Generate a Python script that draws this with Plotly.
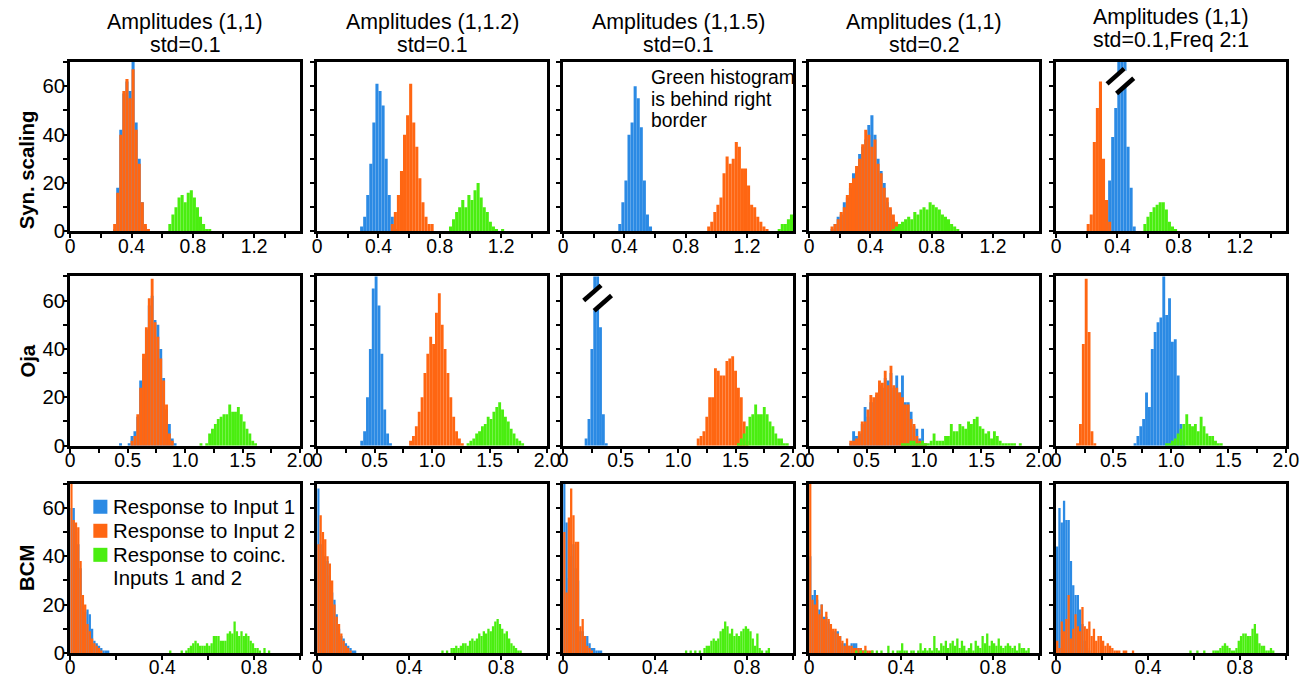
import plotly.graph_objects as go

# reference canvas (all positions below are in these pixel units)
W, H = 1303, 676
# the page is photographed slightly zoomed out, so the figure is drawn a bit larger
K = 1.0177
FIG_W, FIG_H = round(W * K), round(H * K)

BLUE, ORANGE, GREEN = "#2B8AE4", "#FF6612", "#4AEE10"
FONT = "Liberation Sans, Arial, sans-serif"

col_title_line1 = ["Amplitudes (1,1)", "Amplitudes (1,1.2)", "Amplitudes (1,1.5)",
                   "Amplitudes (1,1)", "Amplitudes (1,1)"]
col_title_line2 = ["std=0.1", "std=0.1", "std=0.1", "std=0.2", "std=0.1,Freq 2:1"]
row_labels = ["Syn. scaling", "Oja", "BCM"]
series_names = ["Response to Input 1", "Response to Input 2", "Response to coinc."]
series_name_extra = ["", "", "Inputs 1 and 2"]
row_bin_width = [0.02, 0.025, 0.01]
row_xmax = [1.5, 2.0, 1.0]
row_xticks = [[0, 0.4, 0.8, 1.2], [0, 0.5, 1.0, 1.5, 2.0], [0, 0.4, 0.8]]
row_xticktext = [["0", "0.4", "0.8", "1.2"], ["0", "0.5", "1.0", "1.5", "2.0"], ["0", "0.4", "0.8"]]
row_minor = [0.2, 0.25, 0.2]
y_ticks = [0, 20, 40, 60]
y_max = 70

# ---------------- Row 1: Syn. scaling (bin width 0.02) ----------------
r1c1_in1_start = 0.29
r1c1_in1 = [1, 18, 42, 57, 62, 58, 70, 45, 30, 12, 2]
r1c1_in2_start = 0.29
r1c1_in2 = [3, 16, 40, 58, 63, 55, 67, 42, 28, 12, 3, 1]
r1c1_in3_start = 0.65
r1c1_in3 = [3, 7, 10, 14, 15, 12, 16, 17, 14, 10, 6, 3, 1, 1]

r1c2_in1_start = 0.29
r1c2_in1 = [2, 6, 15, 28, 45, 61, 58, 52, 30, 15, 6, 1]
r1c2_in2_start = 0.49
r1c2_in2 = [3, 8, 15, 25, 40, 48, 61, 45, 35, 22, 12, 6, 3, 3]
r1c2_in3_start = 0.87
r1c2_in3 = [2, 5, 8, 10, 13, 10, 15, 13, 17, 20, 14, 10, 8, 4, 2, 1, 0, 1]

r1c3_in1_start = 0.37
r1c3_in1 = [3, 12, 21, 40, 45, 60, 55, 43, 21, 7, 2]
r1c3_in2_start = 0.95
r1c3_in2 = [2, 4, 8, 11, 14, 24, 31, 28, 30, 37, 35, 26, 26, 19, 11, 10, 6, 4, 2, 1]
r1c3_in3_start = 1.41
r1c3_in3 = [1, 3, 3, 5, 7]

r1c4_in1_start = 0.15
r1c4_in1 = [1, 3, 6, 7, 12, 14, 18, 24, 25, 32, 35, 38, 44, 48, 40, 30, 25, 20, 12, 9, 5, 3, 2, 1]
r1c4_in2_start = 0.15
r1c4_in2 = [2, 3, 5, 8, 10, 15, 20, 22, 27, 30, 36, 42, 40, 35, 38, 28, 24, 18, 14, 10, 7, 4, 2, 1]
r1c4_in3_start = 0.55
r1c4_in3 = [1, 2, 3, 4, 5, 6, 5, 8, 7, 9, 10, 9, 12, 11, 10, 9, 7, 6, 5, 3, 2, 1]

r1c5_in1_start = 0.33
r1c5_in1 = [13, 21, 39, 51, 75, 80, 75, 35, 18, 2]
r1c5_in2_start = 0.21
r1c5_in2 = [3, 7, 37, 51, 62, 30, 13, 4]
r1c5_in3_start = 0.58
r1c5_in3 = [3, 6, 8, 10, 11, 12, 12, 9, 4, 2, 1]

# ---------------- Row 2: Oja (bin width 0.025) ----------------
r2c1_in1_start = 0.4375
r2c1_in1 = [1, 0, 0, 1, 4, 6, 12, 27, 36, 48, 58, 62, 52, 50, 40, 28, 15, 9, 3, 1]
r2c1_in2_start = 0.5375
r2c1_in2 = [2, 4, 13, 24, 38, 49, 61, 69, 51, 45, 36, 27, 17, 5, 2]
r2c1_in3_start = 1.1375
r2c1_in3 = [1, 0, 1, 5, 7, 9, 11, 12, 13, 13, 17, 14, 14, 16, 13, 10, 7, 5, 2, 1]

r2c2_in1_start = 0.3875
r2c2_in1 = [2, 6, 20, 40, 65, 72, 58, 38, 15, 5, 1]
r2c2_in2_start = 0.8125
r2c2_in2 = [2, 4, 8, 14, 20, 30, 38, 45, 42, 55, 63, 50, 40, 30, 20, 12, 6, 3, 1]
r2c2_in3_start = 1.3125
r2c2_in3 = [1, 2, 3, 5, 6, 8, 9, 12, 11, 14, 16, 18, 15, 12, 10, 7, 5, 3, 2, 1]

r2c3_in1_start = 0.2
r2c3_in1 = [3, 11, 40, 80, 80, 49, 13, 1]
r2c3_in2_start = 1.175
r2c3_in2 = [3, 4, 6, 12, 20, 20, 32, 31, 29, 29, 35, 36, 37, 31, 24, 20, 10, 2]
r2c3_in3_start = 1.525
r2c3_in3 = [1, 3, 5, 8, 12, 13, 17, 13, 13, 16, 13, 10, 8, 5, 3, 3, 1, 1]

r2c4_in1_start = 0.3625
r2c4_in1 = [1, 6, 4, 5, 9, 16, 12, 18, 18, 21, 25, 24, 28, 27, 30, 24, 29, 22, 29, 18, 18, 14, 8, 7, 3, 7, 1]
r2c4_in2_start = 0.3625
r2c4_in2 = [2, 2, 3, 6, 10, 10, 15, 21, 20, 22, 27, 26, 31, 25, 33, 25, 24, 22, 20, 17, 17, 11, 9, 4, 2, 1, 1]
r2c4_in3_start = 0.8125
r2c4_in3 = [1, 1, 1, 2, 2, 1, 1, 2, 1, 1, 2, 5, 2, 2, 2, 4, 4, 9, 6, 6, 9, 8, 7, 10, 9, 11,
            12, 8, 7, 5, 6, 3, 6, 4, 2, 1, 1, 1, 1, 1, 0, 1]

r2c5_in1_start = 0.6875
r2c5_in1 = [1, 4, 8, 11, 22, 16, 40, 47, 51, 53, 72, 54, 61, 43, 44, 29, 9, 2]
r2c5_in2_start = 0.1875
r2c5_in2 = [1, 9, 42, 69, 47, 6, 1]
r2c5_in3_start = 0.9625
r2c5_in3 = [1, 1, 2, 3, 5, 7, 9, 13, 9, 8, 9, 6, 12, 8, 5, 4, 4, 2, 1, 1]

# ---------------- Row 3: BCM (bin width 0.01) ----------------
r3c1_in1_start = 0.005
r3c1_in1 = [60, 60, 50, 45, 35, 22, 17, 18, 16, 10, 5, 4, 3, 2, 1, 1, 1]
r3c1_in2_start = 0.005
r3c1_in2 = [75, 55, 54, 52, 38, 24, 20, 12, 9, 6, 4, 3, 2, 1]
r3c1_in3_start = 0.435
r3c1_in3 = [1, 0, 0, 0, 0, 1, 0, 1, 2, 3, 4, 5, 4, 3, 3, 3, 4, 3, 4, 7, 7, 7, 5, 5, 5, 8,
            9, 8, 13, 9, 7, 9, 7, 8, 7, 5, 4, 2, 2, 1, 0, 2, 0, 1]

r3c2_in1_start = 0.005
r3c2_in1 = [68, 45, 42, 40, 38, 32, 25, 22, 16, 10, 7, 6, 4, 3, 2, 1, 1]
r3c2_in2_start = 0.005
r3c2_in2 = [45, 57, 50, 47, 40, 37, 30, 20, 15, 12, 8, 5, 3, 2, 1]
r3c2_in3_start = 0.545
r3c2_in3 = [1, 0, 1, 0, 2, 2, 3, 2, 3, 4, 4, 3, 5, 6, 5, 6, 8, 7, 9, 8, 10, 9, 11, 13,
            14, 12, 10, 8, 9, 6, 4, 3, 2, 1, 1]

r3c3_in1_start = 0.005
r3c3_in1 = [70, 54, 31, 40, 45, 35, 30, 9, 9, 7, 7, 4, 2, 2, 1, 1, 1]
r3c3_in2_start = 0.005
r3c3_in2 = [50, 25, 56, 68, 57, 46, 46, 11, 14, 7, 3, 2, 1]
r3c3_in3_start = 0.535
r3c3_in3 = [1, 0, 1, 0, 1, 0, 1, 0, 2, 3, 3, 5, 6, 5, 6, 9, 10, 13, 11, 8, 10, 7, 8, 7,
            9, 10, 11, 10, 9, 6, 3, 8, 2, 1, 0, 1, 2]

r3c4_in1_start = 0.005
r3c4_in1 = [40, 24, 26, 22, 18, 20, 15, 15, 13, 10, 9, 9, 9, 7, 4, 4, 3, 3, 4, 4, 4, 2, 2, 1]
r3c4_in2_start = 0.005
r3c4_in2 = [72, 22, 20, 24, 16, 20, 14, 17, 14, 12, 10, 10, 8, 7, 5, 3, 6, 3, 3, 2, 2, 2, 2, 1, 3, 1, 1, 1]
r3c4_in3_start = 0.205
r3c4_in3 = [1, 0, 1, 0, 1, 0, 0, 1, 0, 1, 0, 1, 0, 0, 3, 0, 1, 0, 1, 1, 4, 1, 1, 0, 1, 1,
            0, 1, 4, 1, 2, 1, 2, 1, 7, 2, 1, 4, 3, 5, 2, 4, 5, 3, 6, 2, 5, 3, 1, 2, 4, 1,
            5, 3, 2, 7, 4, 8, 3, 5, 4, 3, 6, 3, 2, 3, 4, 3, 2, 3, 1, 4, 2, 2, 1, 2]

r3c5_in1_start = 0.005
r3c5_in1 = [44, 60, 54, 63, 55, 55, 38, 28, 24, 24, 18, 12, 5, 2, 1]
r3c5_in2_start = 0.005
r3c5_in2 = [5, 2, 13, 9, 14, 24, 6, 10, 16, 11, 9, 19, 11, 10, 13, 7, 10, 5, 7, 7, 5, 3,
            4, 3, 2, 1, 1, 1, 0, 1, 1, 0, 0, 1]
r3c5_in3_start = 0.585
r3c5_in3 = [1, 0, 0, 1, 0, 0, 1, 0, 0, 0, 1, 1, 1, 2, 3, 4, 3, 2, 1, 1, 2, 5, 7, 8, 8, 7,
            7, 10, 12, 8, 4, 3, 3, 1, 1, 2, 1]

panels = [
    [[(r1c1_in1_start, r1c1_in1), (r1c1_in2_start, r1c1_in2), (r1c1_in3_start, r1c1_in3)],
     [(r1c2_in1_start, r1c2_in1), (r1c2_in2_start, r1c2_in2), (r1c2_in3_start, r1c2_in3)],
     [(r1c3_in1_start, r1c3_in1), (r1c3_in2_start, r1c3_in2), (r1c3_in3_start, r1c3_in3)],
     [(r1c4_in1_start, r1c4_in1), (r1c4_in2_start, r1c4_in2), (r1c4_in3_start, r1c4_in3)],
     [(r1c5_in1_start, r1c5_in1), (r1c5_in2_start, r1c5_in2), (r1c5_in3_start, r1c5_in3)]],
    [[(r2c1_in1_start, r2c1_in1), (r2c1_in2_start, r2c1_in2), (r2c1_in3_start, r2c1_in3)],
     [(r2c2_in1_start, r2c2_in1), (r2c2_in2_start, r2c2_in2), (r2c2_in3_start, r2c2_in3)],
     [(r2c3_in1_start, r2c3_in1), (r2c3_in2_start, r2c3_in2), (r2c3_in3_start, r2c3_in3)],
     [(r2c4_in1_start, r2c4_in1), (r2c4_in2_start, r2c4_in2), (r2c4_in3_start, r2c4_in3)],
     [(r2c5_in1_start, r2c5_in1), (r2c5_in2_start, r2c5_in2), (r2c5_in3_start, r2c5_in3)]],
    [[(r3c1_in1_start, r3c1_in1), (r3c1_in2_start, r3c1_in2), (r3c1_in3_start, r3c1_in3)],
     [(r3c2_in1_start, r3c2_in1), (r3c2_in2_start, r3c2_in2), (r3c2_in3_start, r3c2_in3)],
     [(r3c3_in1_start, r3c3_in1), (r3c3_in2_start, r3c3_in2), (r3c3_in3_start, r3c3_in3)],
     [(r3c4_in1_start, r3c4_in1), (r3c4_in2_start, r3c4_in2), (r3c4_in3_start, r3c4_in3)],
     [(r3c5_in1_start, r3c5_in1), (r3c5_in2_start, r3c5_in2), (r3c5_in3_start, r3c5_in3)]],
]

# ---------------- layout geometry (reference pixels) ----------------
col_left = [65, 311, 556, 801, 1047]
col_w = 229
row_top = [62, 276, 483]
row_h = 169

f_tick = 19 * K
f_ytick = 20 * K
f_title = 21 * K
f_row = 20 * K
f_note = 19 * K
f_leg = 20 * K
lw = 3 * K
tl = 4 * K

fig = go.Figure()
colors = [BLUE, ORANGE, GREEN]
layout = dict(width=FIG_W, height=FIG_H, margin=dict(l=0, r=0, t=0, b=0),
              paper_bgcolor="white", plot_bgcolor="white",
              barmode="overlay", font=dict(family=FONT, color="black", size=f_tick),
              showlegend=False)

for r in range(3):
    w = row_bin_width[r]
    for c in range(5):
        idx = r * 5 + c + 1
        sfx = "" if idx == 1 else str(idx)
        for s, (start, counts) in enumerate(panels[r][c]):
            xs = [start + k * w for k in range(len(counts))]
            fig.add_trace(go.Bar(
                x=xs, y=counts, width=w, marker=dict(color=colors[s], line=dict(width=0)),
                xaxis="x" + sfx, yaxis="y" + sfx, name=series_names[s], opacity=1))
        l = col_left[c]
        t = row_top[r]
        layout["xaxis" + sfx] = dict(
            domain=[l / W, (l + col_w) / W], anchor="y" + sfx, range=[0, row_xmax[r]],
            showline=True, linewidth=lw, linecolor="black", mirror=True,
            showgrid=False, zeroline=False, ticks="outside", ticklen=0, tickwidth=1.5,
            tickcolor="black", tickvals=row_xticks[r], ticktext=row_xticktext[r],
            ticklabelstandoff=-5,
            tickfont=dict(size=f_tick, family=FONT, color="black"),
            minor=dict(dtick=row_minor[r], tick0=0, ticks="outside", ticklen=tl,
                       tickwidth=1.5, tickcolor="black", showgrid=False),
            fixedrange=True)
        layout["yaxis" + sfx] = dict(
            domain=[1 - (t + row_h) / H, 1 - t / H], anchor="x" + sfx, range=[0, y_max],
            showline=True, linewidth=lw, linecolor="black", mirror=True,
            showgrid=False, zeroline=False, ticks="outside", ticklen=0, tickwidth=1.5,
            tickcolor="black", tickvals=y_ticks, showticklabels=(c == 0),
            ticklabelstandoff=-2,
            tickfont=dict(size=f_ytick, family=FONT, color="black"),
            minor=dict(dtick=10, tick0=0, ticks="outside", ticklen=tl, tickwidth=1.5,
                       tickcolor="black", showgrid=False),
            fixedrange=True)

annotations = []
shapes = []
title_line1_y = [22, 22, 22, 22, 17]
title_line2_y = [45, 45, 45, 45, 40]
for c in range(5):
    for txt, yy in [(col_title_line1[c], title_line1_y[c]), (col_title_line2[c], title_line2_y[c])]:
        annotations.append(dict(
            text=txt, x=(col_left[c] + col_w / 2) / W, y=1 - yy / H,
            xref="paper", yref="paper", xanchor="center", yanchor="middle",
            showarrow=False, font=dict(size=f_title, family=FONT, color="black")))
row_label_mid = [170, 361, 567]
for r in range(3):
    annotations.append(dict(
        text="<b>" + row_labels[r] + "</b>", x=22 / W, y=1 - row_label_mid[r] / H,
        xref="paper", yref="paper", xanchor="center", yanchor="middle", textangle=-90,
        showarrow=False, font=dict(size=f_row, family=FONT, color="black")))
green_note_lines = ["Green histogram", "is behind right", "border"]
green_note_y = [77, 99, 120]
for txt, yy in zip(green_note_lines, green_note_y):
    annotations.append(dict(
        text=txt, x=642 / W, y=1 - yy / H,
        xref="paper", yref="paper", xanchor="left", yanchor="middle", align="left",
        showarrow=False, font=dict(size=f_note, family=FONT, color="black")))

# legend drawn inside the BCM / first-column panel
leg_y = [506, 530, 554]
for s in range(3):
    yy = leg_y[s]
    shapes.append(dict(type="rect", xref="paper", yref="paper",
                       x0=88 / W, x1=102 / W, y0=1 - (yy + 7) / H, y1=1 - (yy - 7) / H,
                       fillcolor=colors[s], line=dict(width=0)))
    annotations.append(dict(
        text=series_names[s], x=106 / W, y=1 - yy / H, xref="paper", yref="paper",
        xanchor="left", yanchor="middle", showarrow=False,
        font=dict(size=f_leg, family=FONT, color="black")))
    if series_name_extra[s]:
        annotations.append(dict(
            text=series_name_extra[s], x=106 / W, y=1 - (yy + 23) / H, xref="paper", yref="paper",
            xanchor="left", yanchor="middle", showarrow=False,
            font=dict(size=f_leg, family=FONT, color="black")))
layout["annotations"] = annotations

# break marks (axis-break symbols over clipped bars)
breaks = [("x5", "y5", (0.333, 61.0), (0.445, 67.3), (0.395, 57.0), (0.507, 63.3)),
          ("x8", "y8", (0.179, 60.0), (0.330, 66.3), (0.270, 55.8), (0.421, 62.1))]
for xr, yr, a1, a2, b1, b2 in breaks:
    shapes.append(dict(type="path", xref=xr, yref=yr, fillcolor="white", line=dict(width=0),
                       path=f"M {a1[0]} {a1[1]} L {a2[0]} {a2[1]} L {b2[0]} {b2[1]} L {b1[0]} {b1[1]} Z"))
    for p, q in [(a1, a2), (b1, b2)]:
        shapes.append(dict(type="line", xref=xr, yref=yr, x0=p[0], y0=p[1], x1=q[0], y1=q[1],
                           line=dict(color="black", width=4.5 * K)))
layout["shapes"] = shapes

fig.update_layout(**layout)
fig.write_html(
    "out.html",
    config={"displayModeBar": False, "responsive": False},
    post_script=("var d=document.getElementById('{plot_id}');"
                 "d.style.position='fixed';d.style.left='0px';d.style.top='0px';"
                 "document.body.style.margin='0';"
                 "document.documentElement.style.overflow='hidden';"
                 "document.body.style.overflow='hidden';"))
